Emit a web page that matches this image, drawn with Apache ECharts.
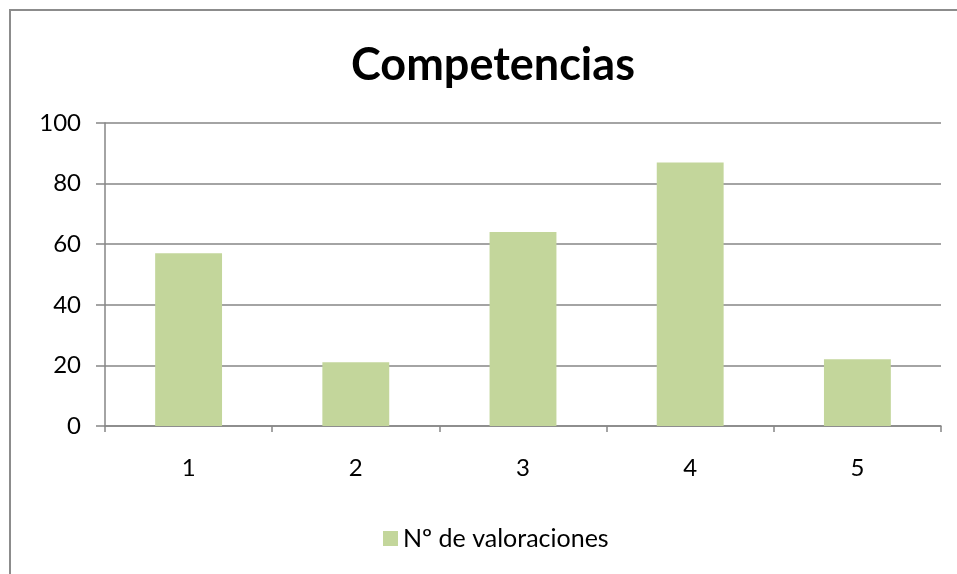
<!DOCTYPE html>
<html>
<head>
<meta charset="utf-8">
<script src="https://cdn.jsdelivr.net/npm/echarts@6/dist/echarts.min.js"></script>
<style>
html,body{margin:0;padding:0;background:#fff;}
#chart{width:957px;height:574px;}
</style>
</head>
<body>
<div id="chart"></div>
<script>
const categories = ['1', '2', '3', '4', '5'];
const values = [57, 21, 64, 87, 22];
const yTicks = [0, 20, 40, 60, 80, 100];
const seriesName = 'Nº de valoraciones';
const titleText = 'Competencias';

const chart = echarts.init(document.getElementById('chart'));
const font = 'Lato, "Open Sans", sans-serif';
chart.setOption({
  animation: false,
  backgroundColor: '#fff',
  title: {
    text: titleText,
    left: 346,
    top: 38,
    textStyle: { fontFamily: font, fontSize: 45, fontWeight: 'bold', color: '#000' }
  },
  graphic: [
    { type: 'line', shape: { x1: 9, y1: 10, x2: 957, y2: 10 }, style: { stroke: '#8c8c8c', lineWidth: 2 } },
    { type: 'line', shape: { x1: 10, y1: 9, x2: 10, y2: 574 }, style: { stroke: '#8c8c8c', lineWidth: 2 } }
  ],
  legend: {
    bottom: 18,
    left: 378,
    itemWidth: 15,
    itemHeight: 15,
    itemGap: 8,
    icon: 'rect',
    textStyle: { fontFamily: font, fontSize: 25, color: '#000' },
    data: [seriesName]
  },
  grid: { left: 105, right: 16, top: 123, bottom: 148, containLabel: false },
  xAxis: {
    type: 'category',
    data: categories,
    axisLine: { lineStyle: { color: '#868686', width: 1.5 } },
    axisTick: { show: true, length: 6, lineStyle: { color: '#868686', width: 1.5 } },
    axisLabel: { fontFamily: font, fontSize: 24, color: '#000', margin: 30 }
  },
  yAxis: {
    type: 'value',
    min: yTicks[0],
    max: yTicks[yTicks.length - 1],
    interval: yTicks[1] - yTicks[0],
    axisLine: { show: true, lineStyle: { color: '#868686', width: 1.5 } },
    axisTick: { show: true, length: 9, lineStyle: { color: '#868686', width: 1.5 } },
    splitLine: { lineStyle: { color: '#868686', width: 1.5 } },
    axisLabel: { fontFamily: font, fontSize: 24, color: '#000', margin: 24 }
  },
  series: [{
    name: seriesName,
    type: 'bar',
    data: values,
    barWidth: '40%',
    itemStyle: { color: '#C3D69B' }
  }]
});
</script>
</body>
</html>
